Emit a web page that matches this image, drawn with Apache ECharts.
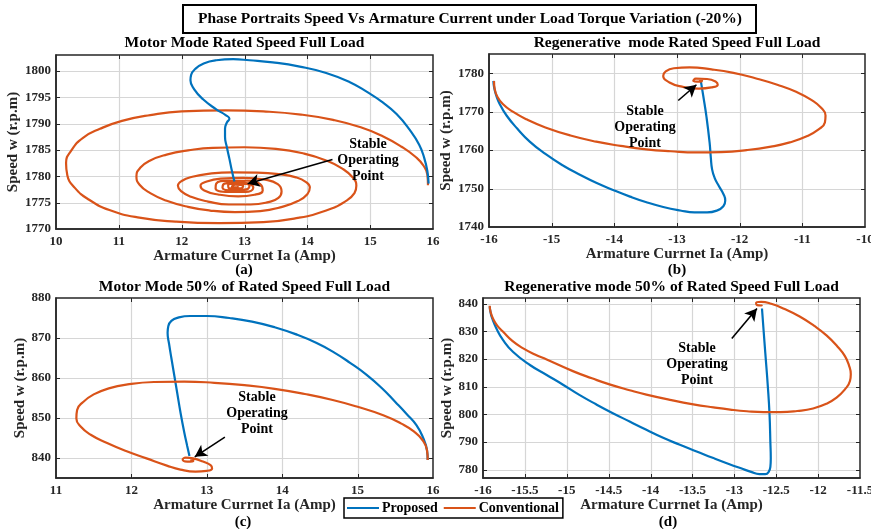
<!DOCTYPE html>
<html><head><meta charset="utf-8">
<script src="https://cdn.jsdelivr.net/npm/echarts@6/dist/echarts.min.js"></script>
<style>html,body{margin:0;padding:0;background:#fff}#c{width:871px;height:529px}</style>
</head><body><div id="c"></div>
<script>
// ---------- data ----------
const aProposed = [[15.93,1778.6],[15.91,1781],[15.86,1783.5],[15.78,1786],[15.63,1788.8],[15.42,1791.8],[15.2,1794],[14.95,1796],[14.67,1797.9],[14.3,1799.6],[13.88,1800.8],[13.45,1801.6],[13.08,1802.0],[12.82,1802.2],[12.55,1802],[12.35,1801.4],[12.22,1800.4],[12.15,1799.2],[12.14,1798.2],[12.2,1796.5],[12.34,1794.6],[12.55,1792.7],[12.7,1791.6],[12.76,1790.9],[12.72,1790.2],[12.69,1789],[12.69,1787.5],[12.72,1785.5],[12.76,1783.3],[12.8,1781],[12.84,1779]];
const aConventional = [[15.92,1778.3],[15.91,1780.3],[15.85,1782],[15.73,1783.6],[15.5,1785.6],[15.2,1787.6],[14.85,1789.3],[14.41,1790.7],[13.9,1791.7],[13.3,1792.3],[12.7,1792.5],[12.0,1792.3],[11.5,1791.6],[11.05,1790.5],[10.7,1789],[10.43,1787.3],[10.25,1785],[10.16,1782.5],[10.18,1780.2],[10.3,1777.8],[10.52,1775.6],[10.85,1773.6],[11.3,1772.2],[11.9,1771.4],[12.6,1771.1],[13.3,1771.3],[13.85,1772.1],[14.3,1773.5],[14.6,1775.2],[14.75,1776.8],[14.78,1778.2],
 [14.72,1779.8],[14.55,1781.5],[14.3,1783],[13.95,1784.3],[13.5,1785.2],[13.0,1785.5],[12.5,1785.4],[12.1,1784.9],[11.76,1784.1],[11.5,1783],[11.34,1781.6],[11.28,1780],[11.33,1778.4],[11.5,1776.8],[11.75,1775.4],[12.1,1774.2],[12.45,1773.5],[12.85,1773.2],[13.25,1773.4],[13.6,1774.2],[13.85,1775.3],[14.0,1776.6],[14.04,1777.9],
 [13.98,1778.9],[13.82,1779.8],[13.55,1780.4],[13.2,1780.7],[12.8,1780.75],[12.45,1780.5],[12.17,1779.9],[12.0,1779.1],[11.94,1778.2],[11.99,1777.2],[12.15,1776.1],[12.42,1775.2],[12.75,1774.65],[13.1,1774.65],[13.38,1775.1],[13.54,1775.9],[13.59,1777.1],
 [13.53,1778.5],[13.33,1779.35],[12.98,1779.7],[12.62,1779.55],[12.4,1779.0],[12.3,1778.2],[12.36,1777.3],[12.58,1776.55],[12.9,1776.2],[13.16,1776.5],[13.29,1777.3],
 [13.25,1778.5],[13.05,1779.15],[12.75,1779.15],[12.55,1778.6],[12.54,1777.7],[12.75,1777.05],[13.02,1777.05],[13.14,1777.8],
 [13.07,1778.6],[12.87,1778.9],[12.68,1778.6],[12.65,1777.8],[12.82,1777.3],[13.03,1777.5],[13.08,1778.2],[12.92,1778.6],[12.74,1778.3],[12.76,1777.7],[12.94,1777.7],[12.98,1778.2],[12.85,1778.4],[12.8,1778.0],[12.9,1777.9],[12.88,1778.1]];

const bProposed = [[-15.93,1778],[-15.92,1776.5],[-15.89,1774.5],[-15.83,1772],[-15.72,1769],[-15.55,1765.6],[-15.35,1762.2],[-15.1,1759],[-14.82,1756],[-14.55,1753.6],[-14.29,1751.5],[-14.0,1749.5],[-13.75,1747.9],[-13.5,1746.5],[-13.22,1745.2],[-12.95,1744.3],[-12.72,1743.8],[-12.52,1743.8],[-12.36,1744.3],[-12.26,1745.4],[-12.23,1746.9],[-12.26,1748.6],[-12.33,1750.6],[-12.4,1752.8],[-12.44,1755],[-12.46,1758],[-12.48,1762],[-12.53,1768.7],[-12.58,1774],[-12.62,1778]];
const bConventional = [[-15.92,1778],[-15.91,1776],[-15.87,1774],[-15.78,1772],[-15.62,1770],[-15.4,1768],[-15.1,1765.9],[-14.7,1763.8],[-14.29,1762.2],[-13.9,1761.1],[-13.49,1760.2],[-13.1,1759.7],[-12.69,1759.4],[-12.3,1759.5],[-11.89,1760],[-11.5,1760.9],[-11.2,1762],[-10.93,1763.6],[-10.74,1765.4],[-10.64,1767.2],[-10.63,1769],[-10.7,1771],[-10.85,1773],[-11.09,1775.1],[-11.4,1777],[-11.75,1778.7],[-12.1,1780.1],[-12.45,1781],[-12.8,1781.5],[-13.05,1781.3],[-13.18,1780.5],[-13.22,1779.3],[-13.12,1777.6],[-12.92,1776.5],[-12.65,1776.0],[-12.45,1776.3],[-12.35,1777.0],[-12.38,1777.8],[-12.52,1778.5],[-12.7,1778.6],[-12.74,1778.0],[-12.62,1777.8],[-12.6,1778.3],[-12.65,1778.4]];

const cProposed = [[15.93,839.5],[15.92,842],[15.87,845],[15.78,848.2],[15.65,851],[15.5,854],[15.32,857.5],[15.12,860.8],[14.9,863.8],[14.67,866.6],[14.45,868.8],[14.2,870.8],[13.9,872.7],[13.6,874.1],[13.3,875],[13.0,875.5],[12.78,875.5],[12.62,875.1],[12.53,874.3],[12.49,873],[12.48,871.3],[12.5,868.5],[12.53,865],[12.57,860.5],[12.61,856],[12.65,851.5],[12.7,846.5],[12.74,843],[12.77,840.5]];
const cConventional = [[15.93,839.5],[15.92,842],[15.86,844.5],[15.75,846.6],[15.58,848.6],[15.34,850.7],[15.0,852.8],[14.67,854.5],[14.3,856],[13.9,857.3],[13.5,858.2],[13.1,858.8],[12.7,859.1],[12.3,859.0],[11.95,858.4],[11.7,857.4],[11.5,855.9],[11.36,854],[11.28,852],[11.27,849.9],[11.33,847.8],[11.46,845.8],[11.67,843.8],[11.92,841.8],[12.2,839.9],[12.47,838.1],[12.65,837.1],[12.85,836.6],[13.0,836.8],[13.07,837.4],[13.05,838.2],[12.95,839.1],[12.82,839.9],[12.72,840.1],[12.68,839.6],[12.74,839.1],[12.82,839.2],[12.82,839.6],[12.78,839.6]];

const dProposed = [[-15.92,839],[-15.91,836.8],[-15.89,834.6],[-15.84,831],[-15.76,826.8],[-15.64,822.5],[-15.44,817.8],[-15.24,814.2],[-15.04,810.6],[-14.85,807],[-14.65,803.6],[-14.45,800.4],[-14.25,797.4],[-14.05,794.4],[-13.85,791.5],[-13.65,789],[-13.45,786.6],[-13.25,784.2],[-13.05,781.9],[-12.92,780.5],[-12.8,779.2],[-12.7,778.4],[-12.63,778.4],[-12.59,779.2],[-12.57,781],[-12.565,784],[-12.57,790],[-12.58,800],[-12.6,810],[-12.63,822],[-12.65,830],[-12.67,838.2]];
const dConventional = [[-15.92,839.2],[-15.91,837],[-15.88,834.5],[-15.83,832],[-15.76,829.8],[-15.65,826.5],[-15.52,823.8],[-15.38,821.6],[-15.24,819.8],[-14.92,815.5],[-14.7,813],[-14.49,810.8],[-14.25,808.7],[-14.05,807.1],[-13.75,805.1],[-13.49,803.6],[-13.25,802.5],[-13.05,801.7],[-12.85,801.1],[-12.65,800.8],[-12.45,800.8],[-12.25,801.2],[-12.06,802.1],[-11.9,803.8],[-11.78,806],[-11.68,809],[-11.62,812],[-11.61,814.5],[-11.63,817.5],[-11.68,821],[-11.77,824.5],[-11.9,828.5],[-12.05,832],[-12.22,835.3],[-12.4,838],[-12.56,839.9],[-12.68,840.6],[-12.74,840.2],[-12.73,839.4],[-12.68,839.3],[-12.67,839.6]];

// tick values
const aXTicks = [10,11,12,13,14,15,16];
const aYTicks = [1770,1775,1780,1785,1790,1795,1800];
const bXTicks = [-16,-15,-14,-13,-12,-11,-10];
const bYTicks = [1740,1750,1760,1770,1780];
const cXTicks = [11,12,13,14,15,16];
const cYTicks = [840,850,860,870,880];
const dXTicks = [-16,-15.5,-15,-14.5,-14,-13.5,-13,-12.5,-12,-11.5];
const dYTicks = [780,790,800,810,820,830,840];
// axis extents (y)
const aYRange = [1770,1803];
const bYRange = [1740,1785];
const cYRange = [835,880];
const dYRange = [777,842];

// annotation arrows [from, to] in data units
const aArrow = [[14.40,1783.2],[13.05,1778.6]];
const bArrow = [[-12.98,1772.9],[-12.69,1777.0]];
const cArrow = [[13.24,845.2],[12.84,840.3]];
const dArrow = [[-13.03,827.4],[-12.73,838.2]];

const titles = ['Motor Mode Rated Speed Full Load','Regenerative  mode Rated Speed Full Load','Motor Mode 50% of Rated Speed Full Load','Regenerative mode 50% of Rated Speed Full Load'];
const captions = ['(a)','(b)','(c)','(d)'];
const mainTitle = 'Phase Portraits Speed Vs Armature Current under Load Torque Variation (-20%)';
const xName = 'Armature Currnet Ia (Amp)';
const yName = 'Speed w (r.p.m)';
const noteText = 'Stable\nOperating\nPoint';

// ---------- chart ----------
const FONT = "'Liberation Serif','Times New Roman',serif";
const BLUE = '#0072BD', ORANGE = '#D95319', AX = '#262626', GRIDC = '#d6d6d6';

const grids = [
  {left:56, top:55, width:377, height:174},
  {left:489, top:54, width:376, height:173},
  {left:56, top:298, width:377, height:180},
  {left:483, top:298, width:377, height:180}
];
const xTicks = [aXTicks,bXTicks,cXTicks,dXTicks];
const yTicks = [aYTicks,bYTicks,cYTicks,dYTicks];
const yRanges = [aYRange,bYRange,cYRange,dYRange];
const yNameGaps = [27,28,26,27];

const xAxis = xTicks.map((t,i)=>({
  type:'value', gridIndex:i, min:t[0], max:t[t.length-1], interval:t[1]-t[0],
  name:xName, nameLocation:'middle', nameGap:18,
  nameTextStyle:{fontFamily:FONT, fontWeight:'bold', fontSize:15, color:AX},
  axisLine:{show:true, onZero:false, lineStyle:{color:AX, width:1.5}},
  axisTick:{show:false},
  axisLabel:{fontFamily:FONT, fontWeight:'bold', fontSize:13, color:AX, margin:6, showMinLabel:true, showMaxLabel:true,
    formatter:v=>String(v)},
  splitLine:{show:false}
}));
const yAxis = yTicks.map((t,i)=>{
  const r = yRanges[i], step = t[1]-t[0];
  return {
    type:'value', gridIndex:i, min:r[0], max:r[1], minInterval:step, maxInterval:step,
    name:yName, nameLocation:'middle', nameGap:yNameGaps[i],
    nameTextStyle:{fontFamily:FONT, fontWeight:'bold', fontSize:15, color:AX},
    axisLine:{show:true, onZero:false, lineStyle:{color:AX, width:1.5}},
    axisTick:{show:false},
    axisLabel:{fontFamily:FONT, fontWeight:'bold', fontSize:13, color:AX, margin:5,
      showMinLabel: r[0]===t[0], showMaxLabel: r[1]===t[t.length-1], formatter:v=>String(v)},
    splitLine:{show:false}
  };
});

const prop = [aProposed,bProposed,cProposed,dProposed];
const conv = [aConventional,bConventional,cConventional,dConventional];
const arrows = [aArrow,bArrow,cArrow,dArrow];
const series = [];
for (let i=0;i<4;i++){
  series.push({name:'Proposed', type:'line', xAxisIndex:i, yAxisIndex:i, data:prop[i],
    showSymbol:false, symbol:'none', smooth:0.5, lineStyle:{color:BLUE, width:2.2}, itemStyle:{color:BLUE}, z: i===0?4:2});
  series.push({name:'Conventional', type:'line', xAxisIndex:i, yAxisIndex:i, data:conv[i],
    showSymbol:false, symbol:'none', smooth:0.5, lineStyle:{color:ORANGE, width:2.2}, itemStyle:{color:ORANGE}, z:3,
    markLine:{silent:true, symbol:['none','arrow'], symbolSize:[10,12], animation:false,
      lineStyle:{color:'#000', width:1.6, type:'solid'}, label:{show:false},
      data:[[{coord:arrows[i][0]},{coord:arrows[i][1]}]]}});
}

function txt(x,y,text,size){
  return {type:'text', x:x, y:y, z:100, style:{text:text, fontFamily:FONT, fontWeight:'bold', fontSize:size,
    fill:'#000', align:'center', verticalAlign:'middle', lineHeight:16}};
}
const graphic = [
  {type:'rect', shape:{x:183,y:5,width:573,height:28}, style:{fill:'#fff', stroke:'#000', lineWidth:2}, z:99},
  txt(470,19,mainTitle,15.5),
  txt(244.5,43,titles[0],15.5), txt(677,43,titles[1],15.5),
  txt(244.5,287,titles[2],15.5), txt(671.5,287,titles[3],15.5),
  txt(244,270,captions[0],15), txt(677,270,captions[1],15),
  txt(243,522,captions[2],15), txt(668,522,captions[3],15),
  txt(368,160.5,noteText,14), txt(645,127.3,noteText,14),
  txt(257,413,noteText,14), txt(697,364.3,noteText,14)
];

const chart = echarts.init(document.getElementById('c'), null, {renderer:'canvas'});
const baseOption = {
  animation:false,
  backgroundColor:'#fff',
  grid: grids.map(g=>Object.assign({show:true, borderColor:AX, borderWidth:1.5, backgroundColor:'transparent',
    containLabel:false, outerBoundsMode:'none'}, g)),
  xAxis, yAxis, series,
  legend:{data:['Proposed','Conventional'], left:344, top:498, orient:'horizontal', icon:'rect',
    borderColor:'#000', borderWidth:1.5, backgroundColor:'#fff', padding:[3,4,3,3], itemGap:6,
    itemWidth:32, itemHeight:2,
    textStyle:{fontFamily:FONT, fontWeight:'bold', fontSize:14, color:'#000', padding:[0,0,0,-2]}}
};
try { chart.setOption(baseOption); } catch (e) { console.error(e); }

// grid lines and inward ticks placed through the chart's own axis scales
function gline(x1,y1,x2,y2,color,w,z){
  return {type:'line', silent:true, z:z, shape:{x1:x1,y1:y1,x2:x2,y2:y2}, style:{stroke:color, lineWidth:w}};
}
const extra = [];
try {
  for (let i=0;i<4;i++){
    const xt = xTicks[i], yt = yTicks[i], yr = yRanges[i];
    const px = v => chart.convertToPixel({xAxisIndex:i}, v);
    const py = v => chart.convertToPixel({yAxisIndex:i}, v);
    const L = px(xt[0]), R = px(xt[xt.length-1]), T = py(yr[1]), B = py(yr[0]);
    xt.forEach(v=>{
      if (v>xt[0] && v<xt[xt.length-1]) {
        const x = Math.round(px(v))+0.5;
        extra.push(gline(x,T,x,B,GRIDC,1.2,1));
        extra.push(gline(x,B,x,B-4,AX,1,5));
        extra.push(gline(x,T,x,T+4,AX,1,5));
      }
    });
    yt.forEach(v=>{
      if (v>yr[0] && v<yr[1]) {
        const y = Math.round(py(v))+0.5;
        extra.push(gline(L,y,R,y,GRIDC,1.2,1));
        extra.push(gline(L,y,L+4,y,AX,1,5));
        extra.push(gline(R,y,R-4,y,AX,1,5));
      }
    });
  }
} catch (e) { console.error(e); }
chart.setOption({graphic: graphic.concat(extra)});
</script></body></html>
